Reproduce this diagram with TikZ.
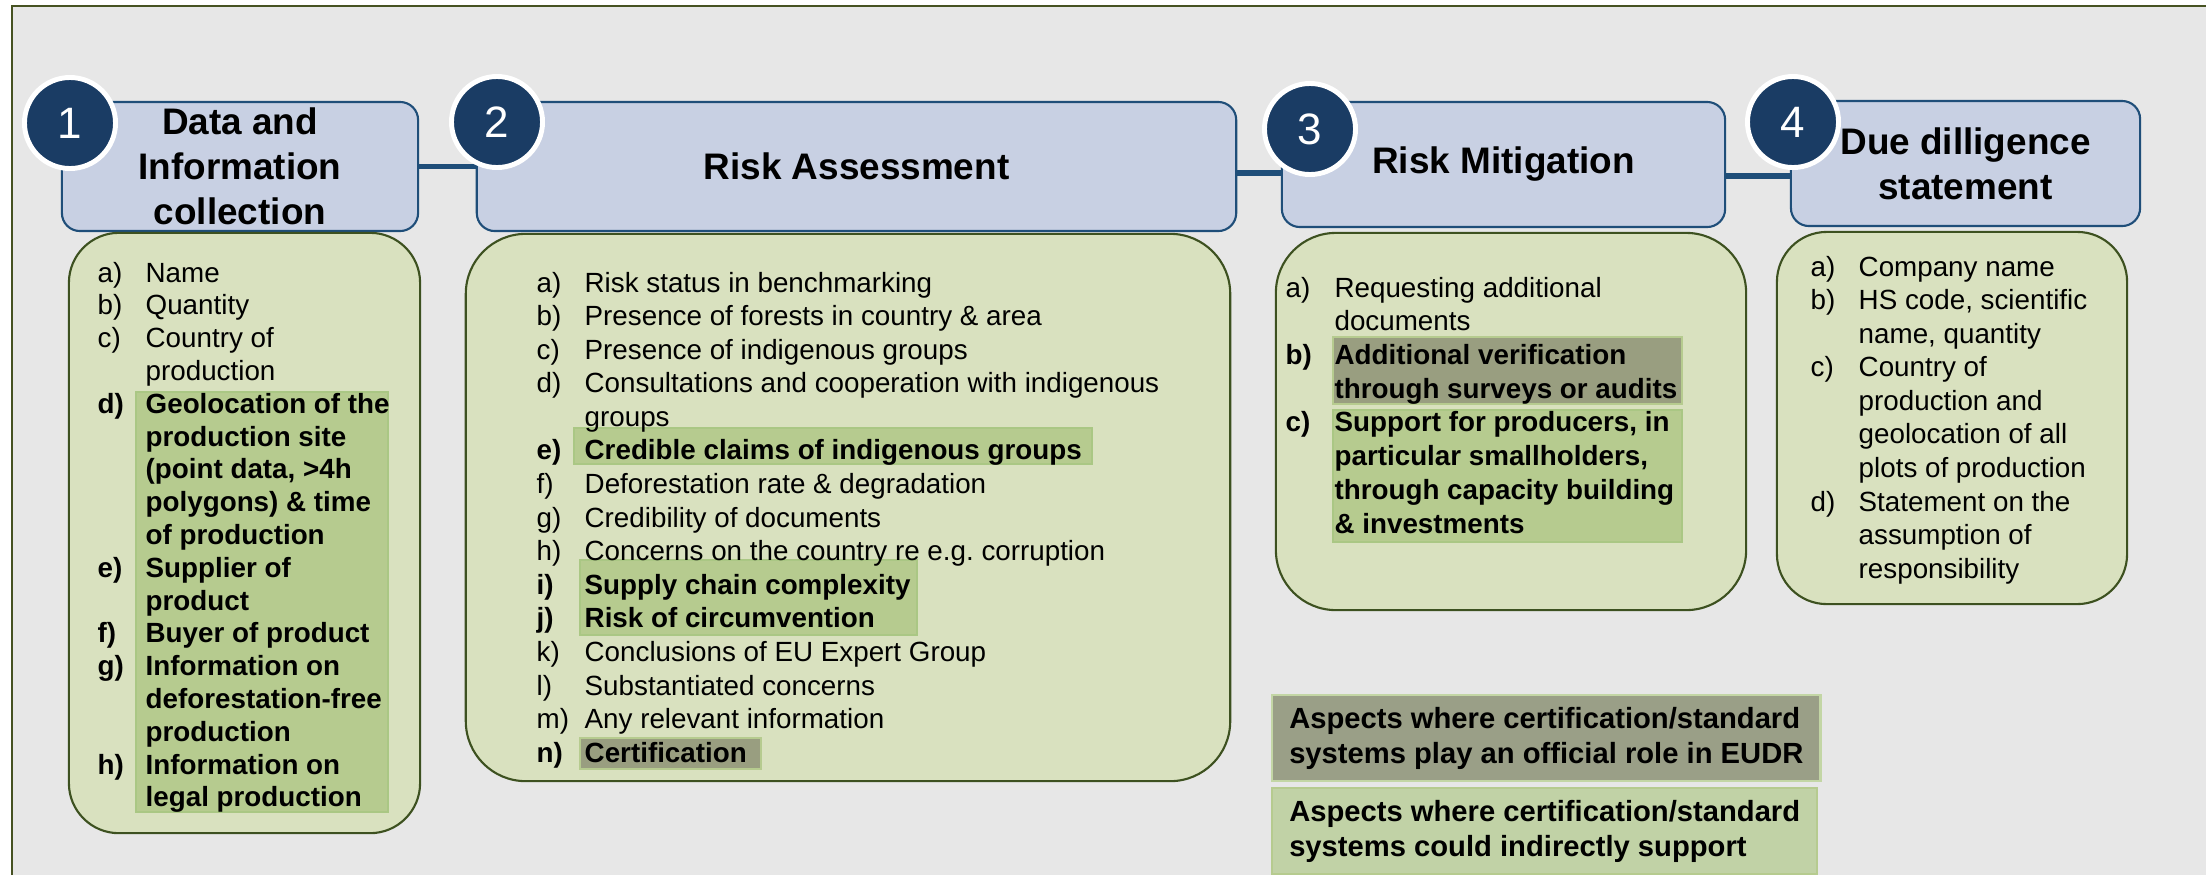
\documentclass[tikz,border=0pt]{standalone}
\usepackage{fontspec}
\setmainfont{Liberation Sans}

\definecolor{bggray}{HTML}{E7E7E7}
\definecolor{framecol}{HTML}{465222}
\definecolor{hdfill}{HTML}{C8D0E3}
\definecolor{hdline}{HTML}{1F4E79}
\definecolor{navy}{HTML}{1A3C64}
\definecolor{panelfill}{HTML}{D9E1BF}
\definecolor{panelline}{HTML}{3D5120}
\definecolor{litefill}{HTML}{B6CB8F}
\definecolor{liteline}{HTML}{AAC784}
\definecolor{darkfill}{HTML}{999E80}
\definecolor{lgdark}{HTML}{9A9F87}
\definecolor{lglite}{HTML}{C1D2A6}
\definecolor{lgline}{HTML}{C3D6A5}

\newcommand{\hb}[1]{\textbf{#1}}

\tikzset{
  stage/.style={rectangle, rounded corners=0.18cm, draw=hdline, fill=hdfill, line width=0.6pt,
    inner sep=0pt, align=center, font=\fontsize{10.5}{12.8}\selectfont\bfseries},
  badge/.style={circle, fill=navy, draw=white, line width=1.4pt, minimum size=0.91cm,
    inner sep=0pt, text=white, font=\fontsize{12.5}{14}\selectfont},
  panel/.style={rectangle, rounded corners=#1, draw=panelline, fill=panelfill, line width=0.6pt, inner sep=0pt},
  panel/.default=0.5cm,
  link/.style={draw=hdline, line width=1.6pt},
  lite/.style={fill=litefill, draw=liteline, line width=0.6pt},
  darkhl/.style={fill=darkfill, draw=litefill, line width=0.6pt},
  items/.style={anchor=base west, inner sep=0pt, font=\fontsize{7.9}{#1}\selectfont},
  legendbox/.style={rectangle, anchor=north west, draw=lgline, line width=0.7pt, inner xsep=0.17cm,
    minimum height=0.8cm, align=left, font=\fontsize{8.3}{10}\selectfont\bfseries}
}

\begin{document}
\begin{tikzpicture}[x=0.01cm, y=-0.01cm]
    \useasboundingbox (0,0) rectangle (2206,875);
    % Background and frame
    \fill[bggray] (12,6) rectangle (2206,875);
    \draw[framecol, line width=0.6pt] (12,875) -- (12,6) -- (2206,6);

    % Draw header boxes
    \node[stage, minimum width=3.56cm, minimum height=1.29cm] (hd1) at (240,166.5) {Data and\\Information\\collection};
    \node[stage, minimum width=7.59cm, minimum height=1.29cm] (hd2) at (856.5,166.5) {Risk Assessment};
    \node[stage, minimum width=4.43cm, minimum height=1.25cm] (hd3) at (1503.5,164.5) {Risk Mitigation};
    \node[stage, minimum width=3.49cm, minimum height=1.25cm] (hd4) at (1965.5,163.5) {Due dilligence\\statement};

    % Links between the steps
    \draw[link] (hd1.east) -- (hd2.west |- hd1.east);
    \draw[link] ([yshift=-0.065cm]hd2.east) -- ([yshift=-0.065cm]hd2.east -| hd3.west);
    \draw[link] ([yshift=-0.115cm]hd3.east) -- ([yshift=-0.115cm]hd3.east -| hd4.west);

    % Step numbers
    \node[badge] (n1) at (70,123) {1};
    \node[badge] (n2) at (497,122) {2};
    \node[badge] (n3) at (1310,129) {3};
    \node[badge] (n4) at (1793,122) {4};

    % Draw content panels
    \node[panel, minimum width=3.51cm, minimum height=6.00cm] (pn1) at (244.5,533) {};
    \node[panel=0.6cm, minimum width=7.64cm, minimum height=5.47cm] (pn2) at (848,507.5) {};
    \node[panel=0.6cm, minimum width=4.70cm, minimum height=3.77cm] (pn3) at (1511,421.5) {};
    \node[panel, minimum width=3.50cm, minimum height=3.72cm] (pn4) at (1952,418) {};

    % Highlights
    \filldraw[lite] (136,392) rectangle (388,812);
    \filldraw[lite] (574,428) rectangle (1092,464);
    \filldraw[lite] (580,560) rectangle (917,635);
    \filldraw[darkhl] (580,738) rectangle (761,769);
    \filldraw[darkhl] (1333,337) rectangle (1682,404);
    \filldraw[lite] (1333,410) rectangle (1682,542);

    % Lists
    \node[items=9.33pt] (t1) at (97,282) {\begin{tabular}[t]{@{}p{13.65pt}@{}l@{}}
      a) & Name \\
      b) & Quantity \\
      c) & Country of \\
         & production \\
      \hb{d)} & \hb{Geolocation of the} \\
         & \hb{production site} \\
         & \hb{(point data, >4h} \\
         & \hb{polygons) \& time} \\
         & \hb{of production} \\
      \hb{e)} & \hb{Supplier of} \\
         & \hb{product} \\
      \hb{f)} & \hb{Buyer of product} \\
      \hb{g)} & \hb{Information on} \\
         & \hb{deforestation-free} \\
         & \hb{production} \\
      \hb{h)} & \hb{Information on} \\
         & \hb{legal production}
    \end{tabular}};
    \node[items=9.55pt] (t2) at (536,292) {\begin{tabular}[t]{@{}p{13.65pt}@{}l@{}}
      a) & Risk status in benchmarking \\
      b) & Presence of forests in country \& area \\
      c) & Presence of indigenous groups \\
      d) & Consultations and cooperation with indigenous \\
         & groups \\
      \hb{e)} & \hb{Credible claims of indigenous groups} \\
      f) & Deforestation rate \& degradation \\
      g) & Credibility of documents \\
      h) & Concerns on the country re e.g.\ corruption \\
      \hb{i)} & \hb{Supply chain complexity} \\
      \hb{j)} & \hb{Risk of circumvention} \\
      k) & Conclusions of EU Expert Group \\
      l) & Substantiated concerns \\
      m) & Any relevant information \\
      \hb{n)} & \hb{Certification}
    \end{tabular}};
    \node[items=9.59pt] (t3) at (1285,297) {\begin{tabular}[t]{@{}p{13.9pt}@{}l@{}}
      a) & Requesting additional \\
         & documents \\
      \hb{b)} & \hb{Additional verification} \\
         & \hb{through surveys or audits} \\
      \hb{c)} & \hb{Support for producers, in} \\
         & \hb{particular smallholders,} \\
         & \hb{through capacity building} \\
         & \hb{\& investments}
    \end{tabular}};
    \node[items=9.55pt] (t4) at (1810,276) {\begin{tabular}[t]{@{}p{13.65pt}@{}l@{}}
      a) & Company name \\
      b) & HS code, scientific \\
         & name, quantity \\
      c) & Country of \\
         & production and \\
         & geolocation of all \\
         & plots of production \\
      d) & Statement on the \\
         & assumption of \\
         & responsibility
    \end{tabular}};

    % Legend
    \node[legendbox, fill=lgdark] (lg1) at (1271,694) {Aspects where certification/standard\\systems play an official role in EUDR};
    \node[legendbox, fill=lglite, draw=litefill] (lg2) at (1271,787) {Aspects where certification/standard\\systems could indirectly support};

\end{tikzpicture}
\end{document}
